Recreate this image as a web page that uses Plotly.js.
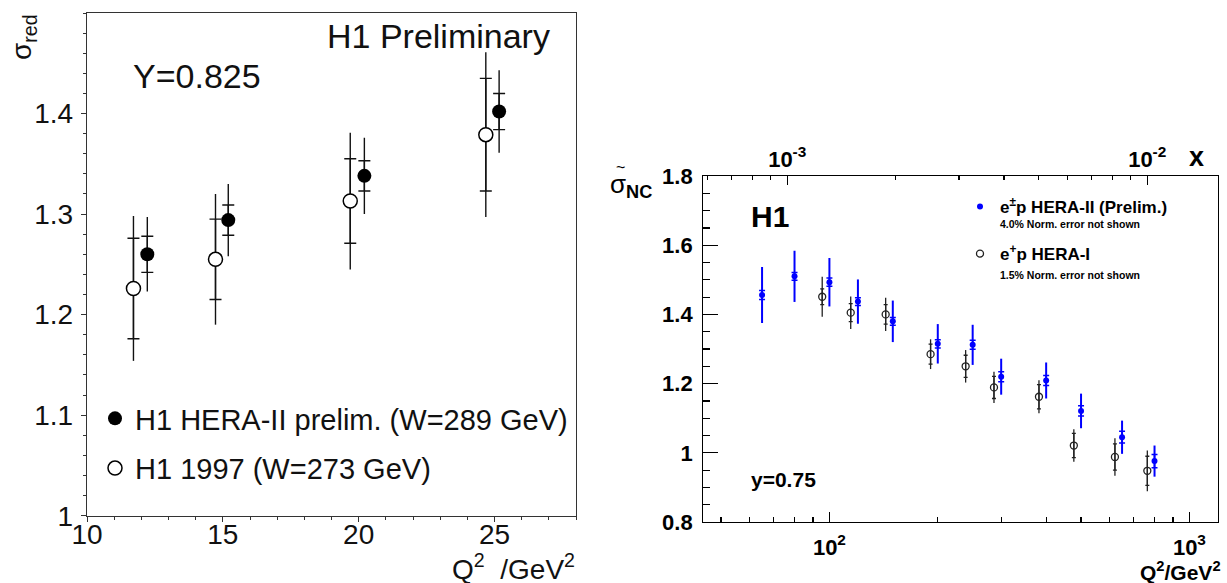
<!DOCTYPE html>
<html>
<head>
<meta charset="utf-8">
<script src="https://cdn.plot.ly/plotly-3.0.1.min.js"></script>
<style>
  html, body { margin: 0; padding: 0; background: #fff; }
  #chart { width: 1227px; height: 583px; }
</style>
</head>
<body>
<div id="chart"></div>
<script>
// ---------- Left panel: Y = 0.825 ----------
const leftQ2Hera2   = [12.22, 15.20, 20.21, 25.17];
const leftSigHera2  = [1.260, 1.294, 1.338, 1.402];
const leftStatHera2 = [0.018, 0.015, 0.015, 0.018];
const leftTotHera2  = [0.037, 0.036, 0.038, 0.041];

const leftQ2H97   = [11.71, 14.73, 19.69, 24.68];
const leftSigH97  = [1.226, 1.255, 1.313, 1.379];
const leftStatH97 = [0.050, 0.040, 0.042, 0.056];
const leftTotH97  = [0.072, 0.065, 0.068, 0.082];

const leftXTicks = [10, 15, 20, 25];
const leftXTickText = ['10', '15', '20', '25'];
const leftYTicks = [1, 1.1, 1.2, 1.3, 1.4];
const leftYTickText = ['1', '1.1', '1.2', '1.3', '1.4'];

// ---------- Right panel: y = 0.75 ----------
const rightQ2Hera2   = [65, 80, 100, 120, 150, 200, 250, 300, 400, 500, 650, 800];
const rightSigHera2  = [1.456, 1.510, 1.493, 1.437, 1.380, 1.315, 1.312, 1.220, 1.209, 1.121, 1.045, 0.976];
const rightTotHera2  = [0.081, 0.074, 0.070, 0.064, 0.060, 0.057, 0.058, 0.052, 0.052, 0.050, 0.048, 0.045];
const rightStatHera2 = [0.013, 0.011, 0.012, 0.011, 0.011, 0.012, 0.013, 0.0145, 0.0145, 0.015, 0.017, 0.019];

const rightQ2Hera1   = [95.5, 114.6, 143.3, 191, 239, 286.5, 382, 477.5, 621, 764];
const rightSigHera1  = [1.451, 1.405, 1.400, 1.285, 1.250, 1.189, 1.162, 1.021, 0.988, 0.948];
const rightTotHera1  = [0.058, 0.047, 0.048, 0.043, 0.047, 0.045, 0.048, 0.047, 0.054, 0.059];
const rightStatHera1 = [0.023, 0.026, 0.028, 0.029, 0.032, 0.032, 0.035, 0.035, 0.038, 0.042];

const rightYTicks = [0.8, 1, 1.2, 1.4, 1.6, 1.8];
const rightYTickText = ['0.8', '1', '1.2', '1.4', '1.6', '1.8'];
const rightXTicks = [100, 1000];
const rightXTickText = ['10<sup>2</sup>', '10<sup>3</sup>'];
const rightXMinor = [50, 60, 70, 80, 90, 200, 300, 400, 500, 600, 700, 800, 900];
const topXTicks = [0.001, 0.01];
const topXTickText = ['10<sup>-3</sup>', '10<sup>-2</sup>'];
const topXMinor = [0.0006, 0.0007, 0.0008, 0.0009, 0.002, 0.003, 0.004, 0.005, 0.006, 0.007, 0.008, 0.009];
const Q2_PER_X = 76350;   // x = Q2 / (s*y) at y = 0.75

// ---------- layout helpers (pixel -> paper) ----------
const W = 1227, H = 583;
const px = v => v / W;
const py = v => 1 - v / H;

const FONT = 'Liberation Sans, Arial, Helvetica, sans-serif';
const BLUE = '#0000ff';

const traces = [
  // left: HERA-II (filled)
  { x: leftQ2Hera2, y: leftSigHera2, xaxis: 'x', yaxis: 'y', type: 'scatter', mode: 'markers',
    marker: { size: 1, opacity: 0 }, showlegend: false, hoverinfo: 'skip',
    error_y: { type: 'data', array: leftStatHera2, width: 6, thickness: 1.4, color: '#111' } },
  { x: leftQ2Hera2, y: leftSigHera2, xaxis: 'x', yaxis: 'y', type: 'scatter', mode: 'markers',
    name: 'H1 HERA-II prelim. (W=289 GeV)', legend: 'legend', legendgroup: 'a',
    marker: { size: 14, color: '#000', symbol: 'circle', line: { width: 0 } },
    error_y: { type: 'data', array: leftTotHera2, width: 0, thickness: 1.4, color: '#111' } },
  // left: H1 1997 (open)
  { x: leftQ2H97, y: leftSigH97, xaxis: 'x', yaxis: 'y', type: 'scatter', mode: 'markers',
    marker: { size: 1, opacity: 0 }, showlegend: false, hoverinfo: 'skip',
    error_y: { type: 'data', array: leftStatH97, width: 6, thickness: 1.4, color: '#111' } },
  { x: leftQ2H97, y: leftSigH97, xaxis: 'x', yaxis: 'y', type: 'scatter', mode: 'markers',
    name: 'H1 1997 (W=273 GeV)', legend: 'legend', legendgroup: 'b',
    marker: { size: 14, color: '#fff', symbol: 'circle', line: { width: 1.5, color: '#000' } },
    error_y: { type: 'data', array: leftTotH97, width: 0, thickness: 1.4, color: '#111' } },

  // right: HERA-I (open, black)
  { x: rightQ2Hera1, y: rightSigHera1, xaxis: 'x2', yaxis: 'y2', type: 'scatter', mode: 'markers',
    marker: { size: 1, opacity: 0 }, showlegend: false, hoverinfo: 'skip',
    error_y: { type: 'data', array: rightStatHera1, width: 2, thickness: 1.3, color: '#222' } },
  { x: rightQ2Hera1, y: rightSigHera1, xaxis: 'x2', yaxis: 'y2', type: 'scatter', mode: 'markers',
    name: 'e<sup>+</sup>p HERA-I', legend: 'legend2', legendgroup: 'd', legendrank: 2,
    marker: { size: 7, color: '#222', symbol: 'circle-open', line: { width: 1.3, color: '#222' } },
    error_y: { type: 'data', array: rightTotHera1, width: 0, thickness: 1.3, color: '#222' } },
  // right: HERA-II (blue)
  { x: rightQ2Hera2, y: rightSigHera2, xaxis: 'x2', yaxis: 'y2', type: 'scatter', mode: 'markers',
    marker: { size: 1, opacity: 0 }, showlegend: false, hoverinfo: 'skip',
    error_y: { type: 'data', array: rightStatHera2, width: 3, thickness: 1.5, color: BLUE } },
  { x: rightQ2Hera2, y: rightSigHera2, xaxis: 'x2', yaxis: 'y2', type: 'scatter', mode: 'markers',
    name: 'e<sup>±</sup>p HERA-II (Prelim.)', legend: 'legend2', legendgroup: 'c', legendrank: 1,
    marker: { size: 6, color: BLUE, symbol: 'circle', line: { width: 0 } },
    error_y: { type: 'data', array: rightTotHera2, width: 0, thickness: 2, color: BLUE } },
  // invisible trace to bind the top x axis
  { x: rightQ2Hera2.map(q => q / Q2_PER_X), y: rightSigHera2, xaxis: 'x3', yaxis: 'y2', type: 'scatter',
    mode: 'markers', marker: { size: 1, opacity: 0 }, showlegend: false, hoverinfo: 'skip' }
];

const logL = 1.6497, logR = 3.0794;
const topShift = Math.log10(Q2_PER_X);

const layout = {
  width: W, height: H, autosize: false,
  margin: { l: 0, r: 0, t: 0, b: 0, pad: 0 },
  paper_bgcolor: '#fff', plot_bgcolor: '#fff',
  font: { family: FONT, color: '#111' },
  showlegend: true,
  xaxis: {
    domain: [px(87), px(576)], range: [10, 28], anchor: 'y',
    tickmode: 'array', tickvals: leftXTicks, ticktext: leftXTickText,
    ticks: 'outside', ticklen: 5, tickwidth: 1, tickcolor: '#333',
    minor: { tickmode: 'linear', tick0: 10, dtick: 1, ticks: 'outside', ticklen: 3, tickwidth: 1, tickcolor: '#333', showgrid: false },
    showline: true, linecolor: '#333', linewidth: 1.2, mirror: true,
    showgrid: false, zeroline: false,
    tickfont: { family: FONT, size: 28, color: '#111' }, ticklabelstandoff: -12
  },
  yaxis: {
    domain: [py(515.7), py(13)], range: [1, 1.5], anchor: 'x',
    tickmode: 'array', tickvals: leftYTicks, ticktext: leftYTickText,
    ticks: 'outside', ticklen: 5, tickwidth: 1, tickcolor: '#333',
    minor: { tickmode: 'linear', tick0: 1, dtick: 0.02, ticks: 'outside', ticklen: 3, tickwidth: 1, tickcolor: '#333', showgrid: false },
    showline: true, linecolor: '#333', linewidth: 1.2, mirror: true,
    showgrid: false, zeroline: false,
    tickfont: { family: FONT, size: 28, color: '#111' }, ticklabelstandoff: 2
  },
  xaxis2: {
    type: 'log', domain: [px(703.3), px(1218)], range: [logL, logR], anchor: 'y2',
    tickmode: 'array', tickvals: rightXTicks, ticktext: rightXTickText,
    ticks: 'inside', ticklen: 10, tickwidth: 1.2, tickcolor: '#000',
    minor: { tickmode: 'array', tickvals: rightXMinor, ticks: 'inside', ticklen: 5, tickwidth: 1.2, tickcolor: '#000', showgrid: false },
    showline: true, linecolor: '#000', linewidth: 1.2, mirror: true,
    showgrid: false, zeroline: false,
    tickfont: { family: FONT, size: 22, color: '#000', weight: 'bold' }, ticklabelstandoff: 5
  },
  xaxis3: {
    type: 'log', overlaying: 'x2', side: 'top', anchor: 'y2',
    range: [logL - topShift, logR - topShift],
    tickmode: 'array', tickvals: topXTicks, ticktext: topXTickText,
    ticks: 'inside', ticklen: 9, tickwidth: 1.2, tickcolor: '#000',
    minor: { tickmode: 'array', tickvals: topXMinor, ticks: 'inside', ticklen: 4, tickwidth: 1.2, tickcolor: '#000', showgrid: false },
    showline: false, showgrid: false, zeroline: false,
    tickfont: { family: FONT, size: 22, color: '#000', weight: 'bold' }, ticklabelstandoff: 4
  },
  yaxis2: {
    domain: [py(522), py(176)], range: [0.8, 1.8], anchor: 'x2',
    tickmode: 'array', tickvals: rightYTicks, ticktext: rightYTickText,
    ticks: 'inside', ticklen: 15, tickwidth: 1.2, tickcolor: '#000',
    minor: { tickmode: 'linear', tick0: 0.8, dtick: 0.05, ticks: 'inside', ticklen: 7, tickwidth: 1.2, tickcolor: '#000', showgrid: false },
    showline: true, linecolor: '#000', linewidth: 1.2, mirror: true,
    showgrid: false, zeroline: false,
    tickfont: { family: FONT, size: 22, color: '#000', weight: 'bold' }, ticklabelstandoff: 5
  },
  legend: {
    x: px(95), y: py(393), xanchor: 'left', yanchor: 'top',
    bgcolor: 'rgba(0,0,0,0)', borderwidth: 0,
    traceorder: 'grouped', tracegroupgap: 9,
    font: { family: FONT, size: 29, color: '#111' }
  },
  legend2: {
    x: px(960), y: py(189), xanchor: 'left', yanchor: 'top',
    bgcolor: 'rgba(0,0,0,0)', borderwidth: 0,
    traceorder: 'grouped', tracegroupgap: 22,
    font: { family: FONT, size: 17, color: '#000', weight: 'bold' }
  },
  annotations: [
    { text: 'H1 Preliminary', xref: 'paper', yref: 'paper', x: px(552), y: py(36),
      xanchor: 'right', yanchor: 'middle', showarrow: false,
      font: { family: FONT, size: 34, color: '#111' } },
    { text: 'Y=0.825', xref: 'paper', yref: 'paper', x: px(131), y: py(76),
      xanchor: 'left', yanchor: 'middle', showarrow: false,
      font: { family: FONT, size: 34, color: '#111' } },
    { text: 'σ<sub>red</sub>', xref: 'paper', yref: 'paper', x: px(23), y: py(37),
      xanchor: 'center', yanchor: 'middle', showarrow: false, textangle: -90,
      font: { family: FONT, size: 28, color: '#111' } },
    { text: 'Q<sup>2</sup>  /GeV<sup>2</sup>', xref: 'paper', yref: 'paper', x: px(577), y: py(567),
      xanchor: 'right', yanchor: 'middle', showarrow: false,
      font: { family: FONT, size: 28, color: '#111' } },
    { text: '<b>H1</b>', xref: 'paper', yref: 'paper', x: px(749), y: py(216),
      xanchor: 'left', yanchor: 'middle', showarrow: false,
      font: { family: FONT, size: 30, color: '#000' } },
    { text: '<b>y=0.75</b>', xref: 'paper', yref: 'paper', x: px(749), y: py(479),
      xanchor: 'left', yanchor: 'middle', showarrow: false,
      font: { family: FONT, size: 21, color: '#000' } },
    { text: '<b>x</b>', xref: 'paper', yref: 'paper', x: px(1196), y: py(157),
      xanchor: 'center', yanchor: 'middle', showarrow: false,
      font: { family: FONT, size: 27, color: '#000' } },
    { text: '<b>Q<sup>2</sup>/GeV<sup>2</sup></b>', xref: 'paper', yref: 'paper', x: px(1223), y: py(571),
      xanchor: 'right', yanchor: 'middle', showarrow: false,
      font: { family: FONT, size: 21, color: '#000' } },
    { text: 'σ<b><sub>NC</sub></b>', xref: 'paper', yref: 'paper', x: px(631), y: py(185),
      xanchor: 'center', yanchor: 'middle', showarrow: false,
      font: { family: FONT, size: 26, color: '#000' } },
    { text: '~', xref: 'paper', yref: 'paper', x: px(620), y: py(167),
      xanchor: 'center', yanchor: 'middle', showarrow: false,
      font: { family: FONT, size: 16, color: '#000' } },
    { text: '<b>4.0% Norm. error not shown</b>', xref: 'paper', yref: 'paper', x: px(998), y: py(224),
      xanchor: 'left', yanchor: 'middle', showarrow: false,
      font: { family: FONT, size: 10.5, color: '#000' } },
    { text: '<b>1.5% Norm. error not shown</b>', xref: 'paper', yref: 'paper', x: px(998), y: py(275),
      xanchor: 'left', yanchor: 'middle', showarrow: false,
      font: { family: FONT, size: 10.5, color: '#000' } }
  ]
};

Plotly.newPlot('chart', traces, layout, { staticPlot: true, displayModeBar: false });
</script>
</body>
</html>
